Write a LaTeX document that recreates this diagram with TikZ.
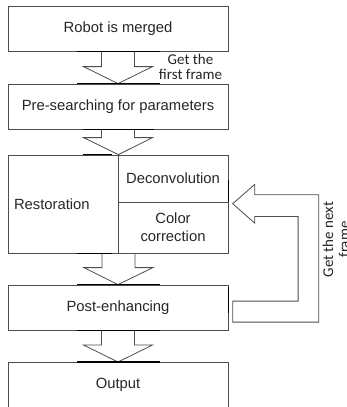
\documentclass[tikz,border=0pt]{standalone}
\usepackage{fontspec}
\setmainfont{Liberation Sans}
\newfontfamily\calfont{Carlito}
\usetikzlibrary{calc}
\definecolor{linec}{HTML}{4D4D4D}
\definecolor{textc}{HTML}{262626}
\newcommand\flowarrow[2]{%
  \draw[bigarrow] let \p1=(#1), \p2=(#2) in
    (\x1-16.5pt,\y1) -- (\x1-16.5pt,\y2+17pt) -- (\x1-34.5pt,\y2+17pt) -- (\x2,\y2)
    -- (\x1+34.5pt,\y2+17pt) -- (\x1+16.5pt,\y2+17pt) -- (\x1+16.5pt,\y1);
}
\begin{document}
\begin{tikzpicture}[x=1pt,y=-1pt,
  box/.style={draw=linec, line width=0.8pt, rectangle, inner sep=0pt,
    minimum width=220pt, minimum height=45pt, text=textc,
    font=\fontsize{14.8}{17.7}\selectfont, align=center},
  txt/.style={text=textc, font=\fontsize{14.8}{17.7}\selectfont, inner sep=0pt},
  smalltxt/.style={text=textc, font=\calfont\fontsize{15}{15.5}\selectfont, inner sep=0pt, align=center},
  bigarrow/.style={draw=linec, line width=0.8pt, line join=miter},
  joint/.style={draw=black, line width=1.6pt}]
\useasboundingbox (0,0) rectangle (347,407);
\clip (0,0) rectangle (347,407);

% boxes
\node[box] (robot) at (118,28.5) {Robot is merged};
\node[box] (pre) at (118,106.5) {Pre-searching for parameters};
\node[box, minimum width=110pt, minimum height=98pt, text width=98pt, inner xsep=6pt, align=left] (rest) at (63,204) {Restoration};
\node[box, minimum width=110pt, minimum height=47pt] (deco) at (173,178.5) {Deconvolution};
\node[box, minimum width=110pt, minimum height=51pt] (colr) at (173,227.5) {Color\\correction};
\node[box] (post) at (118,307.5) {Post-enhancing};
\node[box, minimum height=60pt, anchor=north] (out) at (118,362) {};
\node[txt] (outtxt) at ($(out.north)+(0,23)$) {Output};

% block arrows
\flowarrow{robot.south}{pre.north}
\flowarrow{pre.south}{rest.north east}
\flowarrow{rest.south east}{post.north}
\flowarrow{post.south}{out.north}

% joint marks
\draw[joint] ($(robot.south)+(-41,0)$) -- ($(robot.south)+(42,0)$);
\draw[joint] ($(pre.north)+(-41,0)$) -- ($(pre.north)+(42,0)$);
\draw[joint] ($(pre.south)+(-35,0)$) -- ($(pre.south)+(36,0)$);
\draw[joint] ($(rest.north east)+(-35,0)$) -- ($(rest.north east)+(-6,0)$);
\draw[joint] ($(rest.south east)+(-41,0)$) -- ($(rest.south east)+(-6,0)$);
\draw[joint] ($(post.north)+(-41,0)$) -- ($(post.north)+(42,0)$);
\draw[joint] ($(post.south)+(-41,0)$) -- ($(post.south)+(42,0)$);
\draw[joint] ($(out.north)+(-41,0)$) -- ($(out.north)+(42,0)$);
\draw[joint] ($(deco.south east)+(0,-22)$) -- (deco.south east);
\draw[joint] ($(post.east)+(0,-20.5)$) -- ($(post.east)+(0,5.5)$);

% feedback arrow
\coordinate (fbtip) at ($(deco.south east)+(4.3,1.3)$);
\draw[bigarrow] (fbtip) -- ++(22,-19.3) -- ++(0,10.3) -- ++(64,0) -- ++(0,127.4)
  -- ++(-86,0) -- ++(0,-21) -- ++(65.4,0) -- ++(0,-84.7) -- ++(-43.4,0)
  -- ++(0,6.7) -- cycle;

% labels
\node[smalltxt, anchor=base] (first) at (190.5,79.5) {Get the\\first frame};
\node[smalltxt, rotate=90, anchor=base, font=\calfont\fontsize{15}{16}\selectfont] (next) at (349,239.5) {Get the next\\frame};
\end{tikzpicture}
\end{document}
